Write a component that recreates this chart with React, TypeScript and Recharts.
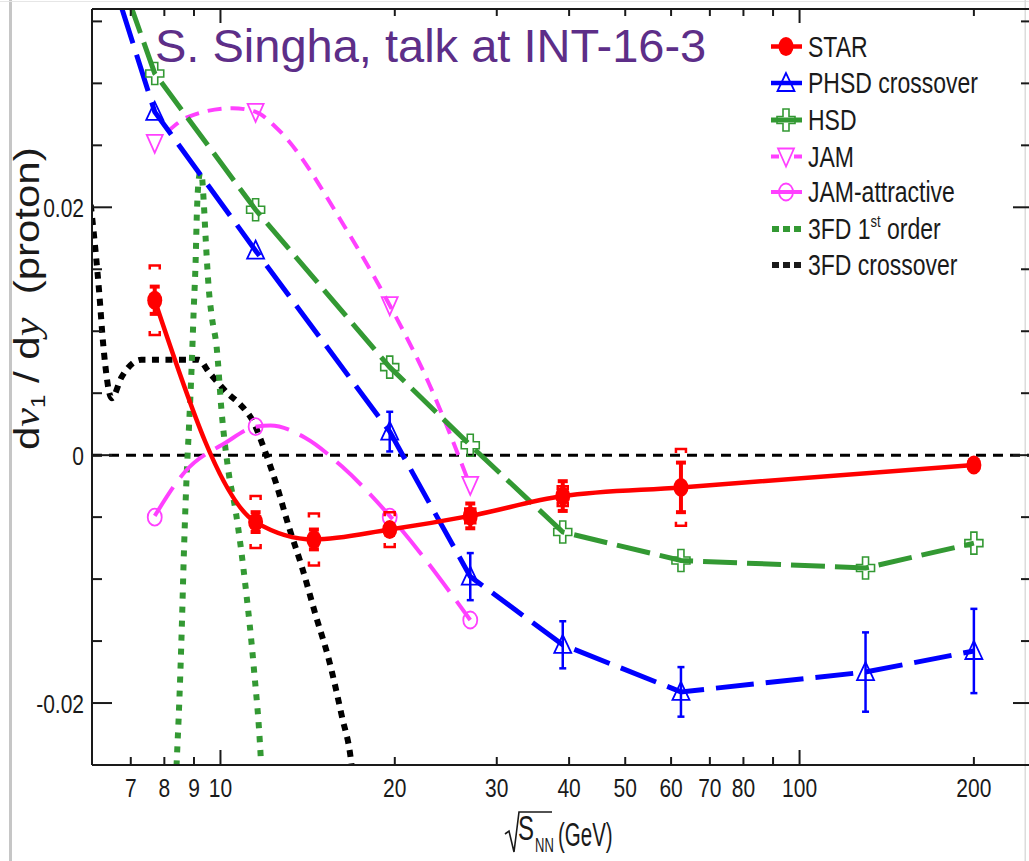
import React from "react";
import {
  ComposedChart,
  Line,
  Scatter,
  XAxis,
  YAxis,
  ErrorBar,
  ReferenceLine,
  Customized,
} from "recharts";

const FONT = "'Liberation Sans', Arial, Helvetica, sans-serif";
const SERIF = "'Liberation Serif', 'Times New Roman', serif";

const RED = "#ff0000";
const BLUE = "#0000ff";
const GREEN = "#339933";
const MAGENTA = "#ff40ff";
const PURPLE = "#5d2e88";
const INK = "#1a1a1a";

// sqrt(s_NN) axis
const xTicks = [7, 8, 9, 10, 20, 30, 40, 50, 60, 70, 80, 90, 100, 200];
const xMajor = [10, 100];
const xUnlabelled = [90];

// dv1/dy axis
const yTicks = [-0.02, -0.015, -0.01, -0.005, 0, 0.005, 0.01, 0.015, 0.02, 0.025, 0.03, 0.035];
const yMajor = [-0.02, 0, 0.02];
const yLabels = ["-0.02", "0", "0.02"];

// STAR
const starE = [7.7, 11.5, 14.5, 19.6, 27, 39, 62.4, 200];
const starV = [0.0125, -0.0054, -0.0068, -0.006, -0.0049, -0.0033, -0.0026, -0.0008];
const starStat = [0.0011, 0.0008, 0.0008, 0.0004, 0.001, 0.0012, 0.002, 0.0002];
const starSys = [0.0028, 0.0021, 0.0021, 0.0014, 0.0006, 0.0008, 0.0031, 0.0003];

// PHSD crossover
const phsdE = [7.7, 11.5, 19.6, 27, 39, 62.4, 130, 200];
const phsdV = [0.0277, 0.0165, 0.0019, -0.0098, -0.0153, -0.0191, -0.0175, -0.0158];
const phsdErr = [null, null, 0.0016, 0.0019, 0.0019, 0.002, 0.0032, 0.0034];
const phsdLineE = [6.35, 7.7, 11.5, 19.6, 27, 39, 62.4, 130, 200];
const phsdLineV = [0.04, 0.0277, 0.0165, 0.0019, -0.0098, -0.0153, -0.0191, -0.0175, -0.0158];

// HSD
const hsdE = [7.7, 11.5, 19.6, 27, 39, 62.4, 130, 200];
const hsdV = [0.0308, 0.0198, 0.0071, 0.0008, -0.0062, -0.0085, -0.0091, -0.0071];
const hsdLineE = [6.56, 7.7, 11.5, 19.6, 27, 39, 62.4, 130, 200];
const hsdLineV = [0.04, 0.0308, 0.0198, 0.0071, 0.0008, -0.0062, -0.0085, -0.0091, -0.0071];

// JAM
const jamE = [7.7, 11.5, 19.6, 27];
const jamV = [0.0252, 0.0277, 0.0121, -0.0024];
const jamCurveE = [8.1, 8.8, 10.5, 11.5, 12.5, 16.5, 19.6, 22.9, 26.8];
const jamCurveV = [0.0261, 0.0273, 0.028, 0.0277, 0.0264, 0.0182, 0.0121, 0.0058, -0.0021];

// JAM-attractive
const jamAttE = [7.7, 11.5, 19.6, 27];
const jamAttV = [-0.005, 0.0023, -0.005, -0.0133];
const jamAttCurveE = [7.7, 8.7, 10.2, 11.5, 12.2, 14.0, 16.2, 19.6, 27];
const jamAttCurveV = [-0.0049, -0.0013, 0.001, 0.0023, 0.0024, 0.0014, -0.0009, -0.0049, -0.0133];

// 3FD, 1st order phase transition
const fo1E = [8.34, 8.4, 8.47, 8.57, 8.64, 8.75, 8.82, 8.92, 8.99, 9.06, 9.1, 9.17, 9.23, 9.28, 9.36, 9.43, 9.55, 9.66, 9.85, 10.05, 10.33, 10.63, 11.06, 11.41, 11.74, 11.83];
const fo1V = [-0.0285, -0.0249, -0.0211, -0.0143, -0.0084, -0.0012, 0.0021, 0.0073, 0.0117, 0.0157, 0.0192, 0.0222, 0.0228, 0.0226, 0.0203, 0.0174, 0.0133, 0.0112, 0.0087, 0.0034, -0.0014, -0.0046, -0.0108, -0.017, -0.0245, -0.0277];

// 3FD, crossover
const fcrE = [5.97, 6.09, 6.17, 6.28, 6.49, 6.75, 7.3, 9.17, 9.55, 10.34, 10.76, 11.5, 11.79, 12.46, 13.13, 13.82, 14.62, 15.39, 16.21, 16.8, 17.07];
const fcrV = [0.0202, 0.0163, 0.0133, 0.0087, 0.0046, 0.0063, 0.0077, 0.0077, 0.0067, 0.0049, 0.0042, 0.0023, 0.001, -0.0022, -0.0058, -0.009, -0.013, -0.0165, -0.0211, -0.0246, -0.0277];

const rows = (e: number[], v: number[]) => e.map((x, i) => ({ e: x, v: v[i] }));

const starRows = starE.map((e, i) => ({ e, v: starV[i], err: starStat[i] }));
const starSysTop = starE.map((e, i) => ({ e, v: starV[i] + starSys[i] }));
const starSysBottom = starE.map((e, i) => ({ e, v: starV[i] - starSys[i] }));
const phsdRows = phsdE.map((e, i) => ({ e, v: phsdV[i], err: phsdErr[i] }));

type M = { cx: number; cy: number; color: string };

const TriUp = ({ cx, cy, color }: M) => (
  <polygon points={`${cx},${cy - 10} ${cx - 8.5},${cy + 8} ${cx + 8.5},${cy + 8}`} fill="none" stroke={color} strokeWidth={1.8} />
);
const TriDown = ({ cx, cy, color }: M) => (
  <polygon points={`${cx},${cy + 10} ${cx - 8},${cy - 8} ${cx + 8},${cy - 8}`} fill="none" stroke={color} strokeWidth={1.8} />
);
const Ring = ({ cx, cy, color }: M) => (
  <ellipse cx={cx} cy={cy} rx={7} ry={8.5} fill="none" stroke={color} strokeWidth={1.8} />
);
const Blob = ({ cx, cy, color }: M) => <ellipse cx={cx} cy={cy} rx={7.5} ry={9.5} fill={color} />;
const Cross = ({ cx, cy, color }: M) => {
  const w = 9, h = 11, a = 3, b = 3.5;
  const pts = [
    [cx - a, cy - h], [cx + a, cy - h], [cx + a, cy - b], [cx + w, cy - b], [cx + w, cy + b], [cx + a, cy + b],
    [cx + a, cy + h], [cx - a, cy + h], [cx - a, cy + b], [cx - w, cy + b], [cx - w, cy - b], [cx - a, cy - b],
  ];
  return <polygon points={pts.map((p) => p.join(",")).join(" ")} fill="none" stroke={color} strokeWidth={1.6} />;
};
const BracketTop = ({ cx, cy }: { cx: number; cy: number }) => (
  <path d={`M${cx - 5},${cy + 4} V${cy} H${cx + 5} V${cy + 4}`} fill="none" stroke={RED} strokeWidth={2.5} />
);
const BracketBottom = ({ cx, cy }: { cx: number; cy: number }) => (
  <path d={`M${cx - 5},${cy - 4} V${cy} H${cx + 5} V${cy - 4}`} fill="none" stroke={RED} strokeWidth={2.5} />
);

function BottomTick({ x, y, payload }: any) {
  const v = payload.value;
  const len = xMajor.includes(v) ? 15 : 8;
  return (
    <g>
      <line x1={x} x2={x} y1={y} y2={y - len} stroke={INK} strokeWidth={2} />
      {!xUnlabelled.includes(v) && (
        <text transform={`translate(${x},${y + 32}) scale(1,1.2)`} textAnchor="middle" fontSize={21} fontFamily={FONT} fill={INK}>
          {v}
        </text>
      )}
    </g>
  );
}

function TopTick({ x, y, payload }: any) {
  const len = xMajor.includes(payload.value) ? 14 : 7;
  return <line x1={x} x2={x} y1={y} y2={y + len} stroke={INK} strokeWidth={2} />;
}

function LeftTick({ x, y, payload }: any) {
  const k = yMajor.indexOf(payload.value);
  return (
    <g>
      <line x1={x} x2={x + (k >= 0 ? 20 : 10)} y1={y} y2={y} stroke={INK} strokeWidth={2} />
      {k >= 0 && (
        <text transform={`translate(${x - 8},${y}) scale(1,1.2)`} y={8} textAnchor="end" fontSize={21} fontFamily={FONT} fill={INK}>
          {yLabels[k]}
        </text>
      )}
    </g>
  );
}

function RightTick({ x, y, payload }: any) {
  const len = yMajor.includes(payload.value) ? 17 : 9;
  return <line x1={x} x2={x - len} y1={y} y2={y} stroke={INK} strokeWidth={2} />;
}

const legendY = [46.5, 83, 120, 156.5, 192, 229, 265];

function LegendLabel({ y, children }: { y: number; children: React.ReactNode }) {
  return (
    <text transform={`translate(808,${y}) scale(1,1.25)`} y={8.3} fontSize={23} fontFamily={FONT} fill={INK}>
      {children}
    </text>
  );
}

function Decorations() {
  const [y0, y1, y2, y3, y4, y5, y6] = legendY;
  return (
    <g>
      <rect x={9} y={0} width={3} height={861} fill="#c6c6c6" />
      <rect x={0} y={1} width={1029} height={1} fill="#e6e6e6" />
      <rect x={1024.5} y={0} width={1.5} height={861} fill="#dcdcdc" />

      <text x={155} y={62} fontSize={47} fontFamily={FONT} fill={PURPLE}>
        S. Singha, talk at INT-16-3
      </text>

      <g transform="translate(39,450) rotate(-90) scale(1.2,1)">
        <text fontSize={35} fontFamily={FONT} fill={INK}>
          d
          <tspan fontFamily={SERIF} fontStyle="italic">ν</tspan>
          <tspan fontSize={20} dy={6}>1</tspan>
          <tspan dy={-6}>{"\u00a0/\u00a0d"}</tspan>
          <tspan fontFamily={SERIF} fontStyle="italic">y</tspan>
          <tspan>{"\u00a0\u00a0(proton)"}</tspan>
        </text>
      </g>

      <path d="M505,834 L509,831 L514,852 L519,812 L552,812" fill="none" stroke={INK} strokeWidth={1.6} />
      <text transform="translate(518,840) scale(1,1.45)" fontSize={24} fontFamily={FONT} fill={INK}>S</text>
      <text transform="translate(535,852) scale(1,1.5)" fontSize={13} fontFamily={FONT} fill={INK}>NN</text>
      <text transform="translate(558,846) scale(1,1.6)" fontSize={20.5} fontFamily={FONT} fill={INK}>(GeV)</text>

      <line x1={771} x2={802} y1={y0} y2={y0} stroke={RED} strokeWidth={4.5} />
      <Blob cx={786} cy={y0} color={RED} />
      <LegendLabel y={y0}>STAR</LegendLabel>

      <line x1={771} x2={802} y1={y1} y2={y1} stroke={BLUE} strokeWidth={4.5} />
      <TriUp cx={786} cy={y1} color={BLUE} />
      <LegendLabel y={y1}>PHSD crossover</LegendLabel>

      <line x1={771} x2={802} y1={y2} y2={y2} stroke={GREEN} strokeWidth={5} />
      <Cross cx={786} cy={y2} color={GREEN} />
      <LegendLabel y={y2}>HSD</LegendLabel>

      <line x1={771} x2={802} y1={y3} y2={y3} stroke={MAGENTA} strokeWidth={4} strokeDasharray="8 15" />
      <TriDown cx={786} cy={y3} color={MAGENTA} />
      <LegendLabel y={y3}>JAM</LegendLabel>

      <line x1={771} x2={802} y1={y4} y2={y4} stroke={MAGENTA} strokeWidth={4} />
      <Ring cx={786} cy={y4} color={MAGENTA} />
      <LegendLabel y={y4}>JAM-attractive</LegendLabel>

      <line x1={772} x2={801} y1={y5} y2={y5} stroke={GREEN} strokeWidth={6} strokeDasharray="7 4" />
      <LegendLabel y={y5}>
        3FD 1<tspan fontSize={13} dy={-10}>st</tspan>
        <tspan dy={10}>{"\u00a0order"}</tspan>
      </LegendLabel>

      <line x1={772} x2={801} y1={y6} y2={y6} stroke={INK} strokeWidth={6} strokeDasharray="7 4" />
      <LegendLabel y={y6}>3FD crossover</LegendLabel>
    </g>
  );
}

export default function App() {
  return (
    <div style={{ position: "absolute", left: 0, top: 0, width: 1029, height: 861, overflow: "hidden", background: "#fff" }}>
      <ComposedChart width={1032} height={861} margin={{ top: 8, right: 1, bottom: 0, left: 0 }}>
        <XAxis
          dataKey="e"
          type="number"
          scale="log"
          domain={[6, 250]}
          allowDataOverflow
          ticks={xTicks}
          interval={0}
          height={96}
          tickSize={0}
          tickMargin={0}
          tickLine={false}
          axisLine={{ stroke: INK, strokeWidth: 2 }}
          tick={BottomTick}
        />
        <XAxis
          xAxisId="top"
          dataKey="e"
          orientation="top"
          type="number"
          scale="log"
          domain={[6, 250]}
          allowDataOverflow
          ticks={xTicks}
          interval={0}
          height={1}
          tickSize={0}
          tickMargin={0}
          tickLine={false}
          axisLine={{ stroke: INK, strokeWidth: 2 }}
          tick={TopTick}
        />
        <YAxis
          dataKey="v"
          type="number"
          domain={[-0.025, 0.036]}
          allowDataOverflow
          ticks={yTicks}
          interval={0}
          width={92}
          tickSize={0}
          tickMargin={0}
          tickLine={false}
          axisLine={{ stroke: INK, strokeWidth: 2 }}
          tick={LeftTick}
        />
        <YAxis
          yAxisId="right"
          dataKey="v"
          orientation="right"
          type="number"
          domain={[-0.025, 0.036]}
          allowDataOverflow
          ticks={yTicks}
          interval={0}
          width={1}
          tickSize={0}
          tickMargin={0}
          tickLine={false}
          axisLine={{ stroke: INK, strokeWidth: 2 }}
          tick={RightTick}
        />

        <ReferenceLine y={0} stroke="#000" strokeWidth={3} strokeDasharray="10 7" />

        <Line data={rows(fcrE, fcrV)} dataKey="v" type="monotone" stroke="#000" strokeWidth={6} strokeDasharray="7 6.5" dot={false} activeDot={false} isAnimationActive={false} />
        <Line data={rows(fo1E, fo1V)} dataKey="v" type="monotone" stroke={GREEN} strokeWidth={6} strokeDasharray="6 8" dot={false} activeDot={false} isAnimationActive={false} />
        <Line data={rows(jamAttCurveE, jamAttCurveV)} dataKey="v" type="monotone" stroke={MAGENTA} strokeWidth={4} strokeDasharray="34 12" dot={false} activeDot={false} isAnimationActive={false} />
        <Line data={rows(jamCurveE, jamCurveV)} dataKey="v" type="monotone" stroke={MAGENTA} strokeWidth={4} strokeDasharray="14 9" dot={false} activeDot={false} isAnimationActive={false} />
        <Line data={rows(hsdLineE, hsdLineV)} dataKey="v" type="linear" stroke={GREEN} strokeWidth={5} strokeDasharray="34 10" dot={false} activeDot={false} isAnimationActive={false} />
        <Line data={rows(phsdLineE, phsdLineV)} dataKey="v" type="linear" stroke={BLUE} strokeWidth={5} strokeDasharray="38 12" dot={false} activeDot={false} isAnimationActive={false} />
        <Line data={rows(starE, starV)} dataKey="v" type="monotone" stroke={RED} strokeWidth={4.5} dot={false} activeDot={false} isAnimationActive={false} />

        <Scatter data={rows(jamAttE, jamAttV)} isAnimationActive={false} shape={(p: any) => <Ring cx={p.cx} cy={p.cy} color={MAGENTA} />} />
        <Scatter data={rows(jamE, jamV)} isAnimationActive={false} shape={(p: any) => <TriDown cx={p.cx} cy={p.cy} color={MAGENTA} />} />
        <Scatter data={rows(hsdE, hsdV)} isAnimationActive={false} shape={(p: any) => <Cross cx={p.cx} cy={p.cy} color={GREEN} />} />
        <Scatter data={phsdRows} isAnimationActive={false} shape={(p: any) => <TriUp cx={p.cx} cy={p.cy} color={BLUE} />}>
          <ErrorBar dataKey="err" direction="y" width={3.5} stroke={BLUE} strokeWidth={2.5} />
        </Scatter>
        <Scatter data={starSysTop} isAnimationActive={false} shape={(p: any) => <BracketTop cx={p.cx} cy={p.cy} />} />
        <Scatter data={starSysBottom} isAnimationActive={false} shape={(p: any) => <BracketBottom cx={p.cx} cy={p.cy} />} />
        <Scatter data={starRows} isAnimationActive={false} shape={(p: any) => <Blob cx={p.cx} cy={p.cy} color={RED} />}>
          <ErrorBar dataKey="err" direction="y" width={5} stroke={RED} strokeWidth={4} />
        </Scatter>

        <Customized component={Decorations} />
      </ComposedChart>
    </div>
  );
}
